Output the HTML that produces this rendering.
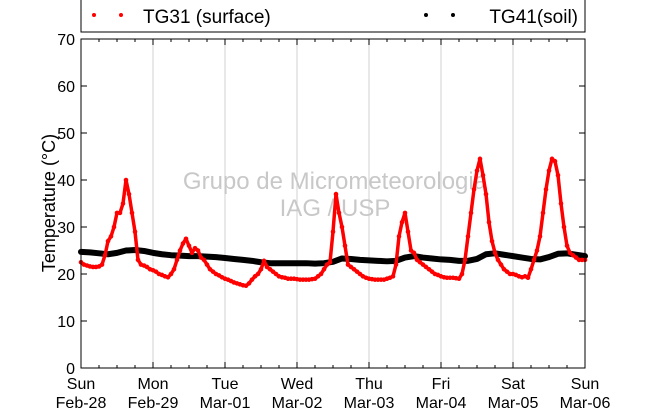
<!DOCTYPE html>
<html><head><meta charset="utf-8"><style>
body{margin:0;background:#fff;}
svg text{font-family:"Liberation Sans","DejaVu Sans",sans-serif;}
</style></head><body>
<svg id="c" width="650" height="409" xmlns="http://www.w3.org/2000/svg">
<rect x="81" y="-2" width="504" height="34" fill="#fff" stroke="#000" stroke-width="1"/>
<circle cx="94" cy="15" r="2" fill="#f00"/>
<circle cx="121" cy="15" r="2" fill="#f00"/>
<text x="143" y="23" font-size="19">TG31 (surface)</text>
<circle cx="426" cy="15" r="2" fill="#000"/>
<circle cx="453" cy="15" r="2" fill="#000"/>
<text x="578" y="23" font-size="19" text-anchor="end">TG41(soil)</text>
<g id="grid"></g>
<text x="335" y="189" font-size="24" fill="#c8c8c8" text-anchor="middle">Grupo de Micrometeorologia</text>
<text x="335" y="216" font-size="24" fill="#c8c8c8" text-anchor="middle">IAG / USP</text>
<g id="series"></g>
<rect x="81" y="39" width="504" height="329" fill="none" stroke="#000" stroke-width="1"/>
<g id="axes"></g>
<text transform="translate(55,203) rotate(-90)" font-size="18" text-anchor="middle">Temperature (°C)</text>
</svg>
<script>
const dayLabels=["Sun","Mon","Tue","Wed","Thu","Fri","Sat","Sun"];
const dateLabels=["Feb-28","Feb-29","Mar-01","Mar-02","Mar-03","Mar-04","Mar-05","Mar-06"];
const yTicks=[0,10,20,30,40,50,60,70];
// hourly surface temperature (TG31)
const tg31=[
22.5,22,21.8,21.6,21.5,21.5,21.6,22,24,27,28,30,33,33,35,40,37,33,29,23,22,21.8,21.5,21,
20.8,20.5,20,19.8,19.5,19.3,20,21,23,25,26.5,27.5,26,24.5,25.5,25,23.5,23,22,21,20.5,20,19.7,19.3,
19,18.8,18.5,18.2,18,17.8,17.6,17.5,18,18.8,19.5,20,21,22.8,21.5,21,20.5,20,19.5,19.3,19.2,19,19,19,
18.9,18.8,18.8,18.8,18.8,18.9,19,19.5,20,21,22,22.5,29,37,33,30,26,22,21.5,21,20.5,20,19.5,19.2,
19,18.9,18.8,18.8,18.8,18.8,19,19.2,19.5,22,28,31,33,29,25,24.5,23,22.5,22,21.5,21,20.5,20,19.8,
19.5,19.3,19.2,19.2,19.2,19.1,19,20,23,28,33,38,42,44.5,41,37,31,27,24.5,23,22,21,20.5,20,
20,19.8,19.5,19.3,19.5,19.2,21,23,25,28,33,38,42,44.5,44,41,35,30,26,24.5,24,23.5,23,23,23];
// 3-hourly soil temperature (TG41)
const tg41=[24.7,24.6,24.4,24.2,24.5,25,25.1,24.9,
24.5,24.2,24,23.9,23.8,23.8,23.7,23.6,
23.4,23.2,23,22.8,22.5,22.3,22.3,22.3,
22.3,22.3,22.2,22.3,22.6,23.3,23.2,23,
22.9,22.8,22.7,22.8,23.5,23.8,23.5,23.3,
23.1,23,22.8,22.8,23.2,24.2,24.4,24.1,
23.8,23.5,23.2,23.1,23.6,24.3,24.4,24.1,23.8];
const X0=81,X1=585,Y0=368,Y1=39,HOURS=168;
const xs=h=>X0+(X1-X0)*h/HOURS;
const ys=v=>Y0-(Y0-Y1)*v/70;
const NS="http://www.w3.org/2000/svg";
function mk(t,a,p){const e=document.createElementNS(NS,t);for(const k in a)e.setAttribute(k,a[k]);p.appendChild(e);return e;}
const grid=document.getElementById('grid'),axes=document.getElementById('axes'),series=document.getElementById('series');
dayLabels.forEach((d,i)=>{
  const x=xs(i*24);
  if(i>0&&i<7){const g=mk('line',{x1:x,x2:x,y1:Y1,y2:Y0,stroke:'#d0d0d0','stroke-width':1},grid);
  
  }
  const t1=mk('text',{x:x,y:389,'font-size':16,'text-anchor':'middle'},axes);t1.textContent=d;
  
  
  const t2=mk('text',{x:x,y:408,'font-size':16,'text-anchor':'middle'},axes);t2.textContent=dateLabels[i];
  
  
});
for(let h=6;h<HOURS;h+=6){const x=xs(h),L=h%24===0?6:3;
  const a=mk('line',{x1:x,x2:x,y1:Y1,y2:Y1+L,stroke:'#000'},axes);
  
  
  const b=mk('line',{x1:x,x2:x,y1:Y0,y2:Y0-L,stroke:'#000'},axes);
  
  }
yTicks.forEach(v=>{const y=ys(v);
  const t=mk('text',{x:75,y:y+6,'font-size':16,'text-anchor':'end'},axes);t.textContent=v;
  
  
  const a=mk('line',{x1:X0,x2:X0+6,y1:y,y2:y,stroke:'#000'},axes);
  
  
  const b=mk('line',{x1:X1,x2:X1-6,y1:y,y2:y,stroke:'#000'},axes);
  
  });
const soilPts=tg41.map((v,i)=>xs(i*3)+','+ys(v)).join(' ');
const soil=mk('polyline',{points:soilPts,fill:'none',stroke:'#000','stroke-width':6,'stroke-linejoin':'round','stroke-linecap':'round'},series);


const surfPts=tg31.map((v,i)=>xs(i)+','+ys(v)).join(' ');
const surf=mk('polyline',{points:surfPts,fill:'none',stroke:'#f00','stroke-width':3.5,'stroke-linejoin':'round','stroke-linecap':'round'},series);


tg31.forEach((v,i)=>{const c=mk('circle',{cx:xs(i),cy:ys(v),r:2.3,fill:'#f00'},series);
  
  });
</script>
</body></html>
